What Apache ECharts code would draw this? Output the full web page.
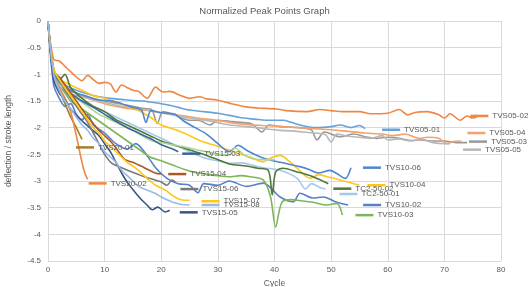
<!DOCTYPE html>
<html>
<head>
<meta charset="utf-8">
<title>Normalized Peak Points Graph</title>
<script src="https://cdn.jsdelivr.net/npm/echarts@6/dist/echarts.min.js"></script>
<style>
  html, body { margin: 0; padding: 0; background: #fff; }
  #chart { width: 529px; height: 287px; }
</style>
</head>
<body>
<div id="chart"></div>
<script>
// x ticks / y ticks
const xTicks = [0, 10, 20, 30, 40, 50, 60, 70, 80]
const yTicks = [0, -0.5, -1, -1.5, -2, -2.5, -3, -3.5, -4, -4.5]

// [cycle, deflection / stroke length]
const tvs05_01 = [[0,0],[1,-0.95],[2,-1.1],[3,-1.2],[5,-1.3],[7,-1.37],[9,-1.42],[11,-1.45],[13,-1.47],[15,-1.49],[17,-1.5],[18,-1.52],[20,-1.55],[21.5,-1.58],[23,-1.62],[25,-1.67],[27.5,-1.7],[30,-1.73],[32,-1.77],[34.5,-1.82],[36.5,-1.84],[38.5,-1.86],[41.5,-1.86],[43,-1.9],[44.5,-1.95],[47.5,-2.0],[50,-1.98],[51.6,-1.95],[53.5,-2.0],[55,-1.96],[56,-2.02]]
const tvs05_02 = [[0,0],[1,-0.72],[2,-0.75],[3,-0.85],[4,-0.95],[5,-1.05],[6,-1.12],[7,-1.02],[8,-1.1],[9,-1.17],[10,-1.15],[11,-1.18],[12,-1.33],[13,-1.2],[14,-1.25],[15,-1.3],[16,-1.32],[17.5,-1.45],[19,-1.24],[20.3,-1.33],[21.5,-1.32],[23.3,-1.39],[25,-1.45],[26.8,-1.42],[28,-1.46],[29.8,-1.48],[32,-1.54],[35,-1.61],[37,-1.63],[40.4,-1.65],[42,-1.68],[45.7,-1.7],[48,-1.66],[50,-1.68],[52,-1.7],[55,-1.7],[57,-1.74],[60,-1.73],[62,-1.66],[63.5,-1.76],[65,-1.71],[67,-1.7],[69,-1.76],[70,-1.82],[71,-1.74],[72.8,-1.86],[74,-1.78],[75,-1.82],[76,-1.78]]
const tvs05_03 = [[0,0],[1,-1.0],[2,-1.15],[3,-1.25],[5,-1.35],[7,-1.42],[9,-1.48],[11,-1.52],[13,-1.56],[15,-1.6],[17,-1.64],[18.3,-1.66],[19.3,-1.92],[20.3,-1.7],[22,-1.75],[25,-1.86],[26.5,-1.86],[28.6,-1.95],[30,-1.86],[32,-1.88],[34,-1.9],[36,-1.93],[37.8,-2.08],[39,-1.95],[41,-1.98],[44.5,-2.0],[46.5,-2.04],[47.5,-2.23],[48.8,-2.08],[51.6,-2.17],[54,-2.12],[56,-2.17],[58,-2.2],[60,-2.18],[62,-2.2],[64,-2.24],[65.7,-2.23],[68,-2.25],[70,-2.25],[72,-2.28],[74,-2.28]]
const tvs05_04 = [[0,0],[1,-0.9],[2,-1.1],[3,-1.22],[5,-1.35],[7,-1.45],[9,-1.52],[11,-1.58],[13,-1.62],[16.3,-1.67],[18,-1.68],[20,-1.72],[22,-1.75],[25.4,-1.8],[27,-1.83],[29.8,-1.86],[32,-1.9],[35,-1.94],[38,-1.96],[41.5,-1.98],[44,-2.0],[47,-2.02],[50,-2.04],[53,-2.07],[56,-2.1],[59,-2.12],[61,-2.15],[63,-2.12],[65.7,-2.2],[67,-2.18],[69,-2.2],[70.5,-2.3],[71.6,-2.26],[73,-2.25]]
const tvs05_05 = [[0,0],[1,-1.05],[2,-1.2],[3,-1.3],[5,-1.4],[7,-1.45],[9,-1.5],[11,-1.55],[13,-1.6],[15,-1.63],[17,-1.66],[19,-1.7],[21,-1.74],[23,-1.78],[25,-1.82],[27,-1.85],[29,-1.88],[31,-1.93],[33,-1.96],[35,-1.98],[37,-2.0],[39,-2.03],[41,-2.05],[43,-2.06],[45,-2.08],[47,-2.1],[49,-2.13],[50,-2.27],[51,-2.12],[53,-2.16],[55,-2.18],[57,-2.2],[59,-2.15],[60,-2.23],[62,-2.21],[64,-2.25],[66,-2.22],[68,-2.28],[70,-2.3],[71,-2.3]]
const tvs10_02 = [[0,0],[1,-1.2],[2,-1.45],[3,-1.6],[4,-1.55],[5,-1.75],[6,-1.85],[7,-1.75],[8,-1.95],[10,-2.1],[12,-2.3],[14,-2.4],[15.5,-2.3],[17,-2.45],[19,-2.75],[21,-2.95],[23,-3.05],[25,-3.08],[26.5,-3.22],[27.5,-3.05],[30,-3.08],[32,-3.0],[35,-3.1],[38,-3.04],[41,-3.3],[43.3,-3.39],[44.5,-3.23],[46.8,-3.32],[48.6,-3.3],[51,-3.4],[53,-3.45]]
const tvs10_03 = [[0,0],[1,-1.0],[2,-1.2],[3,-1.35],[4,-1.5],[6,-1.65],[8,-1.8],[10,-1.95],[12,-2.1],[14,-2.25],[16,-2.4],[18,-2.55],[20,-2.62],[22,-2.7],[24,-2.78],[26,-2.84],[28,-2.87],[30,-2.9],[32,-2.92],[34,-2.9],[35.7,-2.92],[38,-2.98],[39.3,-3.3],[40.2,-3.86],[41.3,-3.4],[43,-3.35],[44,-3.36],[46.8,-3.4],[49.3,-3.45],[51,-3.42],[52,-3.64]]
const tvs10_04 = [[0,0],[1,-0.9],[2,-1.1],[3,-1.15],[4,-1.2],[6,-1.3],[8,-1.4],[10,-1.45],[12,-1.52],[14,-1.6],[16,-1.68],[18,-1.8],[20,-1.95],[22,-2.02],[24,-2.1],[27,-2.25],[30,-2.35],[32,-2.42],[34,-2.5],[35.7,-2.55],[38,-2.64],[39.5,-2.56],[41,-2.52],[42.5,-2.62],[44,-2.76],[46.3,-2.95],[47.8,-2.88],[49.3,-2.92],[51.6,-2.98],[53,-3.02],[55,-3.08]]
const tvs10_06 = [[0,0],[1,-1.0],[2,-1.15],[3,-1.25],[5,-1.35],[7,-1.42],[9,-1.48],[11.3,-1.5],[13,-1.55],[15,-1.62],[16.5,-1.67],[17.3,-1.9],[18.2,-1.68],[20,-1.72],[22.4,-1.75],[24,-1.88],[26,-2.0],[28,-2.12],[30,-2.3],[32,-2.45],[33.6,-2.33],[35,-2.42],[38,-2.57],[41,-2.65],[44.5,-2.73],[46,-2.78],[47.7,-2.85],[49.8,-2.8],[51,-2.86],[52.5,-2.95],[53.5,-2.75]]
const tc2_50_01 = [[0,0],[1,-1.0],[2,-1.2],[4,-1.35],[6,-1.5],[8,-1.6],[10,-1.7],[12,-1.8],[14,-1.9],[16,-2.0],[18,-2.1],[20,-2.2],[22,-2.3],[24,-2.4],[26,-2.5],[28,-2.58],[30,-2.62],[32,-2.67],[34,-2.66],[36,-2.7],[38,-2.75],[41,-2.8],[44,-2.95],[45.5,-3.15],[46.5,-3.05],[48,-3.12],[49,-3.15]]
const tc2_50_02 = [[0,0],[1,-0.9],[2,-1.1],[3,-1.0],[4,-1.25],[6,-1.45],[8,-1.6],[10,-1.7],[12,-1.85],[14,-1.95],[16,-2.05],[18,-2.15],[20,-2.25],[22,-2.32],[24,-2.38],[26,-2.45],[28,-2.52],[30,-2.6],[32,-2.68],[35,-2.72],[37,-2.76],[38.9,-2.8],[39.6,-3.26],[40.2,-2.83],[41.5,-2.76],[44,-2.83],[46.8,-2.92],[48.5,-3.0],[49.5,-3.05]]
const tc2_50_x = [[0,0],[1,-0.95],[2,-1.1],[3,-1.25],[5,-1.45],[7,-1.6],[9,-1.75],[11,-1.85],[13,-1.95],[15,-2.05],[18,-2.23],[21,-2.3],[24,-2.36],[27,-2.43],[30,-2.5],[32,-2.52],[33,-2.38],[34.5,-2.5],[36,-2.58],[38,-2.6],[40,-2.6]]
const tvs20_01 = [[0,0],[1,-1.0],[2,-1.3],[3,-1.55],[4,-1.8],[5,-2.0],[6,-2.22]]
const tvs20_02 = [[0,0],[1,-1.0],[2,-1.25],[3,-1.45],[4,-1.7],[5,-2.15],[6,-2.65],[6.5,-2.85],[7,-2.97]]
const tvs15_03 = [[0,0],[1,-0.95],[2,-1.1],[3,-1.2],[4,-1.35],[6,-1.5],[8,-1.62],[10,-1.75],[12,-1.88],[14,-2.0],[16,-2.1],[18,-2.2],[20,-2.32],[22,-2.4],[23,-2.45]]
const tvs15_04 = [[0,0],[1,-0.95],[2,-1.05],[3,-1.2],[4,-1.35],[5,-1.5],[6,-1.65],[7,-1.8],[8,-1.92],[9,-2.05],[10,-2.15],[11,-2.25],[12,-2.38],[13.6,-2.6],[15,-2.65],[16,-2.7],[17,-2.75],[18.9,-2.85],[20,-2.87]]
const tvs15_05 = [[0,0],[1,-1.1],[2,-1.35],[3,-1.48],[4,-1.65],[5.3,-1.8],[6.5,-1.92],[7.8,-2.04],[9,-2.15],[10,-2.3],[11,-2.45],[12,-2.65],[13,-2.85],[14.1,-3.04],[15.3,-3.2],[16.6,-3.36],[17.5,-3.45],[18.4,-3.54],[19.4,-3.49],[20.7,-3.58],[21.5,-3.55]]
const tvs15_06 = [[0,0],[1,-0.95],[2,-1.1],[3,-1.3],[4,-1.45],[5,-1.6],[6,-1.75],[7,-1.9],[8,-2.1],[9,-2.3],[10,-2.5],[11.3,-2.67],[13,-2.75],[14.8,-2.83],[16,-2.88],[17,-2.92],[18.9,-2.98],[20,-3.02],[21,-3.08],[21.9,-2.98],[22.5,-3.02]]
const tvs15_07 = [[0,0],[1,-0.9],[2,-1.1],[3,-1.25],[4,-1.4],[5,-1.55],[6,-1.7],[7,-1.85],[8,-2.0],[9,-2.1],[10,-2.25],[11,-2.35],[12,-2.45],[13,-2.55],[14,-2.65],[15,-2.72],[16,-2.8],[17,-2.9],[18,-3.0],[19,-3.08],[20.7,-3.17],[22.4,-3.3],[23.5,-3.35],[25,-3.36]]
const tvs15_08 = [[0,0],[1,-1.0],[2,-1.3],[3,-1.5],[4,-1.65],[5,-1.8],[6,-1.95],[7,-2.05],[8,-2.2],[9,-2.3],[10,-2.45],[11,-2.55],[12,-2.65],[13,-2.8],[14,-2.9],[15,-3.0],[16,-3.1],[17,-3.15],[18.9,-3.23],[20,-3.3],[21,-3.35],[22.4,-3.41],[23.5,-3.44],[25,-3.45]]

const seriesNames = ['TVS05-01', 'TVS05-02', 'TVS05-03', 'TVS05-04', 'TVS05-05',
  'TVS10-02', 'TVS10-03', 'TVS10-04', 'TVS10-06', 'TC2-50-01', 'TC2-50-02', '',
  'TVS20-01', 'TVS20-02', 'TVS15-03', 'TVS15-04', 'TVS15-05', 'TVS15-06', 'TVS15-07', 'TVS15-08']
const seriesData = [tvs05_01, tvs05_02, tvs05_03, tvs05_04, tvs05_05,
  tvs10_02, tvs10_03, tvs10_04, tvs10_06, tc2_50_01, tc2_50_02, tc2_50_x,
  tvs20_01, tvs20_02, tvs15_03, tvs15_04, tvs15_05, tvs15_06, tvs15_07, tvs15_08]
const seriesColors = ['#66A3DA', '#EF8743', '#999999', '#F3A26D', '#B8B8B8',
  '#5580CB', '#7DB658', '#FFC619', '#4D88CF', '#A6C9E9', '#52773A', '#B0D597',
  '#A38126', '#EF8743', '#37699A', '#A85A26', '#3A5585', '#7A7A7A', '#FFC619', '#98BAE6']
// label (key + name) offset from the last point, px
const labelOffsets = [[17, 1], [-8, 0], [2, -1], [6, -8], [13, 6],
  [15, 0], [13, 0], [8, 0], [12, 0], [14, 5], [5, 5], null,
  [-6, 8], [1, 4], [4, 2], [7, 0], [10, 2], [5, 7], [12, 1], [12, 0]]

const font = 'Liberation Sans, Arial, sans-serif'
const textColor = '#595959'

const chart = echarts.init(document.getElementById('chart'))

const series = seriesData.map((data, i) => {
  const color = seriesColors[i]
  const s = {
    name: seriesNames[i],
    type: 'line',
    data: data,
    smooth: 0.3,
    symbol: 'none',
    showSymbol: false,
    lineStyle: { width: 1.6, color: color },
    itemStyle: { color: color },
    emphasis: { disabled: true }
  }
  if (labelOffsets[i]) {
    s.endLabel = {
      show: true,
      distance: 0,
      offset: labelOffsets[i],
      formatter: '{k|}{t|' + seriesNames[i] + '}',
      rich: {
        k: { width: 18, height: 2.5, backgroundColor: color },
        t: { padding: [0, 0, 0, 4], fontSize: 8, color: textColor, fontFamily: font }
      }
    }
  }
  return s
})

const option = {
  animation: false,
  backgroundColor: '#fff',
  title: {
    text: 'Normalized Peak Points Graph',
    left: 'center',
    top: 1,
    textStyle: { fontSize: 9.5, fontWeight: 'normal', color: textColor, fontFamily: font }
  },
  grid: { left: 48, right: 28, top: 21, bottom: 26, outerBoundsMode: 'none' },
  xAxis: {
    type: 'value',
    min: xTicks[0],
    max: xTicks[xTicks.length - 1],
    interval: 10,
    name: 'Cycle',
    nameLocation: 'middle',
    nameGap: 14,
    nameTextStyle: { fontSize: 8.5, color: textColor, fontFamily: font },
    axisLine: { show: false },
    axisTick: { show: false },
    axisLabel: { fontSize: 8, color: textColor, margin: 5, fontFamily: font },
    splitLine: { show: true, lineStyle: { color: '#D9D9D9', width: 1 } }
  },
  yAxis: {
    type: 'value',
    min: yTicks[yTicks.length - 1],
    max: yTicks[0],
    interval: 0.5,
    name: 'deflection / stroke length',
    nameLocation: 'middle',
    nameGap: 35,
    nameTextStyle: { fontSize: 8.5, color: textColor, fontFamily: font },
    axisLine: { show: false },
    axisTick: { show: false },
    axisLabel: { fontSize: 8, color: textColor, margin: 7, fontFamily: font },
    splitLine: { show: true, lineStyle: { color: '#D9D9D9', width: 1 } }
  },
  series: series
}

chart.setOption(option)
</script>
</body>
</html>
